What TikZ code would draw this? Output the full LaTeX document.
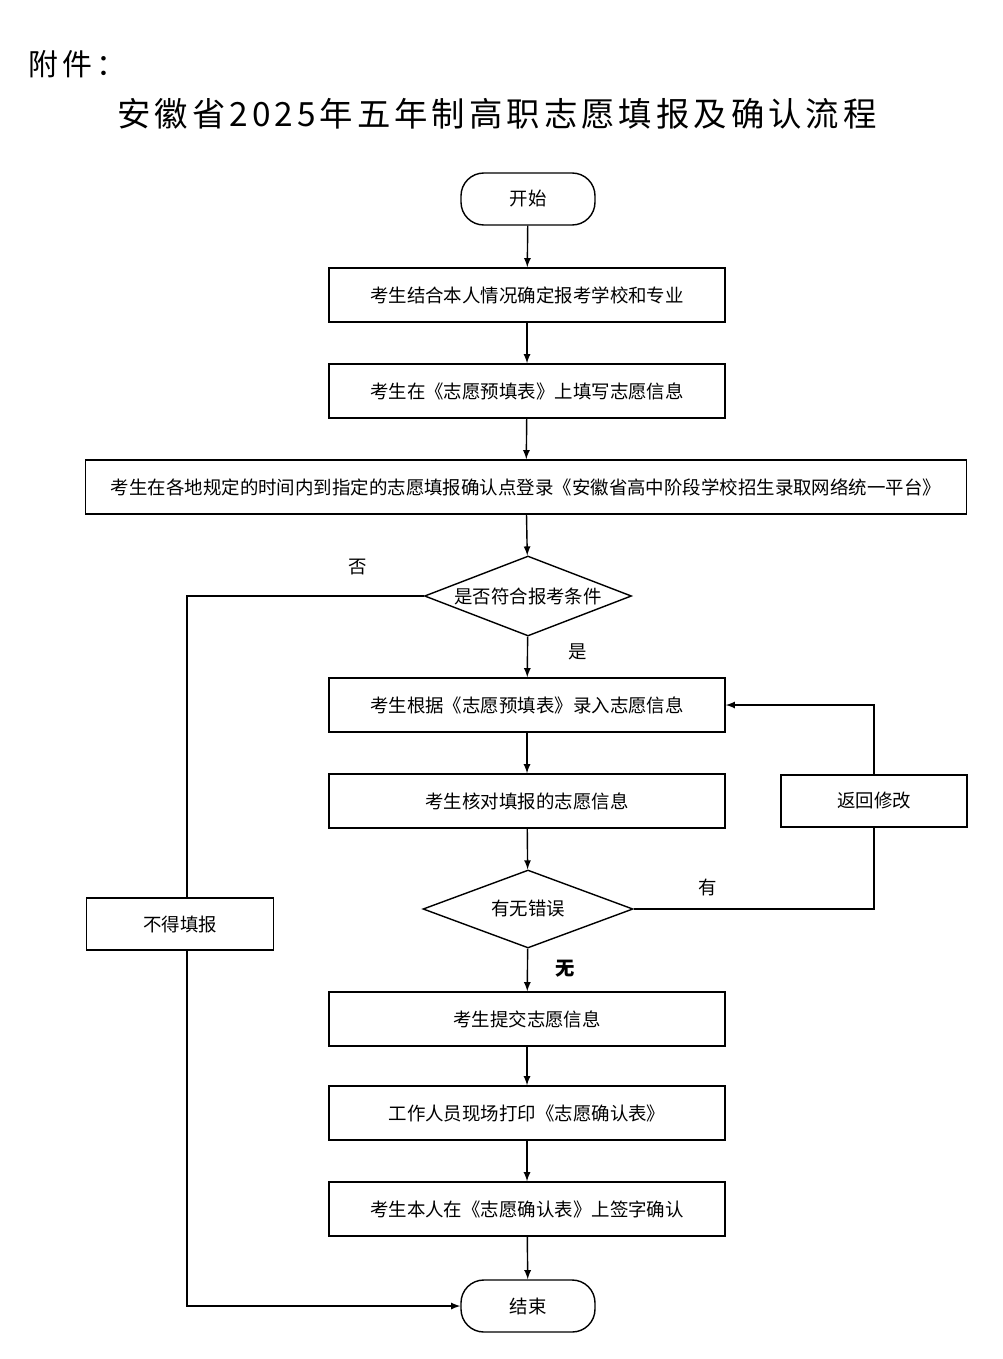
\documentclass[tikz,border=0pt]{standalone}
\usepackage{fontspec}
\setmainfont{Noto Sans CJK SC}
\usetikzlibrary{shapes.geometric}
\begin{document}
\begin{tikzpicture}[x=0.02cm,y=-0.02cm,every path/.style={>=latex},
  box/.style={draw,thick,rectangle,minimum width=396*0.02cm,minimum height=54*0.02cm,font=\fontsize{10.5}{12}\selectfont},
  term/.style={draw,thick,rounded corners=13pt,minimum width=134*0.02cm,minimum height=52*0.02cm,font=\fontsize{10.5}{12}\selectfont},
  dia/.style={draw,thick,diamond,aspect=2.6,inner sep=0pt,font=\fontsize{10.5}{12}\selectfont},
  lbl/.style={font=\fontsize{10.5}{12}\selectfont}]
\useasboundingbox (0,0) rectangle (1002,1359);
\node[anchor=west,font=\fontsize{17}{20}\selectfont\addfontfeatures{LetterSpace=15}] (fj) at (22,64) {附件：};
\node[font=\fontsize{19}{22}\selectfont\addfontfeatures{LetterSpace=12}] (title) at (497,114) {安徽省2025年五年制高职志愿填报及确认流程};
\node[term]  (start) at (528,199)  {开始};
\node[box]   (b1) at (527,295)  {考生结合本人情况确定报考学校和专业};
\node[box]   (b2) at (527,391)  {考生在《志愿预填表》上填写志愿信息};
\node[box,minimum width=881*0.02cm] (b3) at (526,487) {考生在各地规定的时间内到指定的志愿填报确认点登录《安徽省高中阶段学校招生录取网络统一平台》};
\node[dia,minimum width=207*0.02cm,minimum height=80*0.02cm] (d1) at (528,596) {是否符合报考条件};
\node[box]   (b4) at (527,705)  {考生根据《志愿预填表》录入志愿信息};
\node[box]   (b5) at (527,801)  {考生核对填报的志愿信息};
\node[box,minimum width=186*0.02cm,minimum height=52*0.02cm] (ret) at (874,801) {返回修改};
\node[dia,minimum width=210*0.02cm,minimum height=78*0.02cm] (d2) at (528,909) {有无错误};
\node[box,minimum width=187*0.02cm,minimum height=52*0.02cm] (nf) at (180,924) {不得填报};
\node[box]   (b6) at (527,1019) {考生提交志愿信息};
\node[box]   (b7) at (527,1113) {工作人员现场打印《志愿确认表》};
\node[box]   (b8) at (527,1209) {考生本人在《志愿确认表》上签字确认};
\node[term]  (end) at (528,1306) {结束};
\node[lbl] (no) at (358,567) {否};
\node[lbl] (yes) at (578,652) {是};
\node[lbl] (has) at (708,887) {有};
\node[lbl,font=\fontsize{11}{12}\bfseries] (none) at (565,969) {无};
\coordinate (nt) at (187,898);
\coordinate (nb) at (187,950);
\draw[->,thick] (start) -- (b1);
\draw[->,thick] (b1) -- (b2);
\draw[->,thick] (b2) -- (b3);
\draw[->,thick] (b3) -- (d1);
\draw[->,thick] (d1) -- (b4);
\draw[->,thick] (b4) -- (b5);
\draw[->,thick] (b5) -- (d2);
\draw[->,thick] (d2) -- (b6);
\draw[->,thick] (b6) -- (b7);
\draw[->,thick] (b7) -- (b8);
\draw[->,thick] (b8) -- (end);
\draw[thick] (d1.west) -| (nt);
\draw[->,thick] (nb) |- (end.west);
\draw[thick] (d2.east) -| (ret.south);
\draw[->,thick] (ret.north) |- (b4.east);
\end{tikzpicture}
\end{document}
